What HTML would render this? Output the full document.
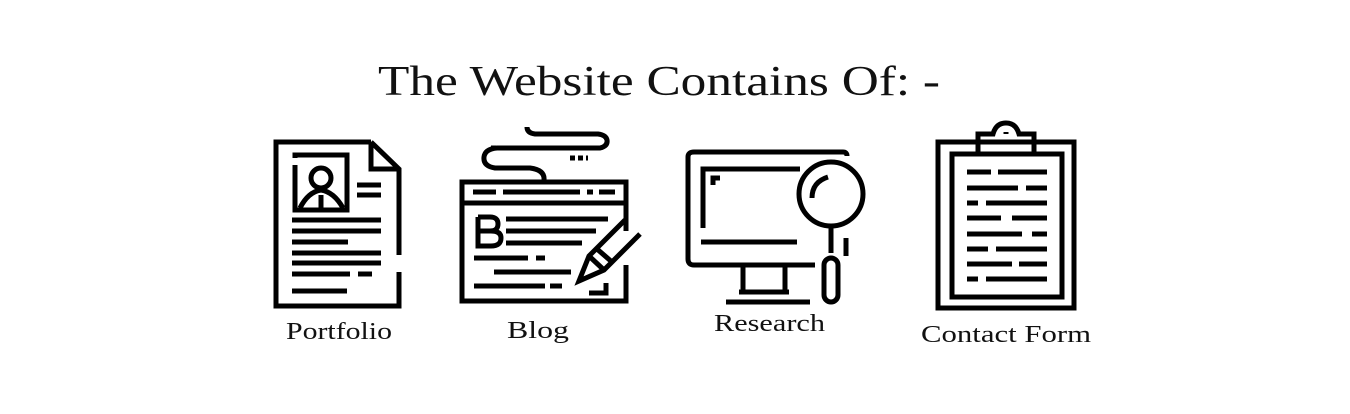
<!DOCTYPE html>
<html><head><meta charset="utf-8"><style>
html,body{margin:0;padding:0;background:#fff;width:1350px;height:414px;overflow:hidden}
svg{display:block}
text{font-family:"Liberation Serif",serif;fill:#111}
</style></head><body>
<svg width="1350" height="414" viewBox="0 0 1350 414">
<text x="378" y="95" font-size="42" textLength="562" lengthAdjust="spacingAndGlyphs">The Website Contains Of: -</text>

<g fill="none" stroke="#000" stroke-width="5" stroke-linejoin="miter">
<path d="M371,142 L276,142 L276,306 L399,306 L399,272"/>
<path d="M399,255 L399,169 L371,142"/>
<path d="M371,142 L371,169 L399,169"/>
<path d="M295,165 L295,210 L347,210 L347,155 L295,155 L295,158"/>
<circle cx="321" cy="178" r="10"/>
<path d="M300,208 Q308,192 321,190 Q334,192 343,208 M321,195 L321,208"/>
<path d="M357,185 L381,185 M357,195 L381,195 M292,220 L381,220 M292,231 L381,231 M292,242 L348,242 M292,253 L381,253 M292,263 L381,263 M292,274 L350,274 M358,274 L372,274 M292,291 L347,291"/>
</g>
<text x="286" y="339" font-size="24" textLength="106" lengthAdjust="spacingAndGlyphs">Portfolio</text>

<g fill="none" stroke="#000" stroke-width="5">
<path d="M626,231 L626,182 L462,182 L462,301 L626,301 L626,265"/>
<path d="M462,203 L626,203"/>
<path d="M473,192 L496,192 M503,192 L580,192 M587,192 L593,192 M599,192 L615,192"/>
<path d="M544,180 Q545,170 530,168 L495,168 Q483,166 484,157 Q485,149 497,148 L600,148 Q608,146 607,140 Q606,135 598,134 L535,134 Q527,133 527,127"/>
<path d="M491,148 L511,148 M570,158 L588,158" stroke-dasharray="5,3"/>
<path d="M506,219 L608,219 M506,231 L596,231 M506,243 L582,243 M474,258 L528,258 M536,258 L545,258 M494,272 L571,272 M474,286 L545,286 M550,286 L562,286 M589,293 L606,293 L606,283"/>
<path d="M478,217 L478,246 L491,246 Q501,246 501,238 Q501,231 491,231 L478,231 M478,217 L490,217 Q498,217 498,224 Q498,231 490,231"/>
<path d="M625,220 L589,256 L579,281 L604,270 L640,234 M589,256 L604,270 M597,249 L612,262"/>
</g>
<text x="507" y="338" font-size="24" textLength="62" lengthAdjust="spacingAndGlyphs">Blog</text>

<g fill="none" stroke="#000" stroke-width="5">
<path d="M815,265 L694,265 Q688,265 688,259 L688,157 Q688,152 694,152 L843,152 Q847,152 847,156"/>
<path d="M703,228 L703,169 L800,169 M713,185 L713,178 L720,178 M701,242 L797,242"/>
<path d="M743,266 L743,290 M785,266 L785,290 M739,292 L789,292 M726,302 L810,302"/>
<circle cx="831" cy="194" r="32"/>
<path d="M812,198 Q812,182 828,177"/>
<path d="M831,226 L831,253 M846,238 L846,256"/>
<rect x="824" y="258" width="14" height="44" rx="7"/>
</g>
<text x="714" y="331" font-size="24" textLength="111" lengthAdjust="spacingAndGlyphs">Research</text>

<g fill="none" stroke="#000" stroke-width="5">
<rect x="938" y="142" width="136" height="166"/>
<rect x="952" y="154" width="110" height="143"/>
<path d="M978,152 L978,134 L993,134 Q996,123 1006,123 Q1016,123 1019,134 L1034,134 L1034,152"/>
<path d="M1006,132 L1006,134"/>
<path d="M967,172 L991,172 M998,172 L1047,172 M967,188 L1018,188 M1026,188 L1047,188 M967,203 L978,203 M986,203 L1047,203 M967,218 L1001,218 M1012,218 L1047,218 M967,234 L1022,234 M1032,234 L1047,234 M967,249 L988,249 M996,249 L1047,249 M967,264 L1012,264 M1019,264 L1047,264 M967,279 L978,279 M986,279 L1047,279"/>
</g>
<text x="921" y="342" font-size="24" textLength="170" lengthAdjust="spacingAndGlyphs">Contact Form</text>
</svg>
</body></html>
